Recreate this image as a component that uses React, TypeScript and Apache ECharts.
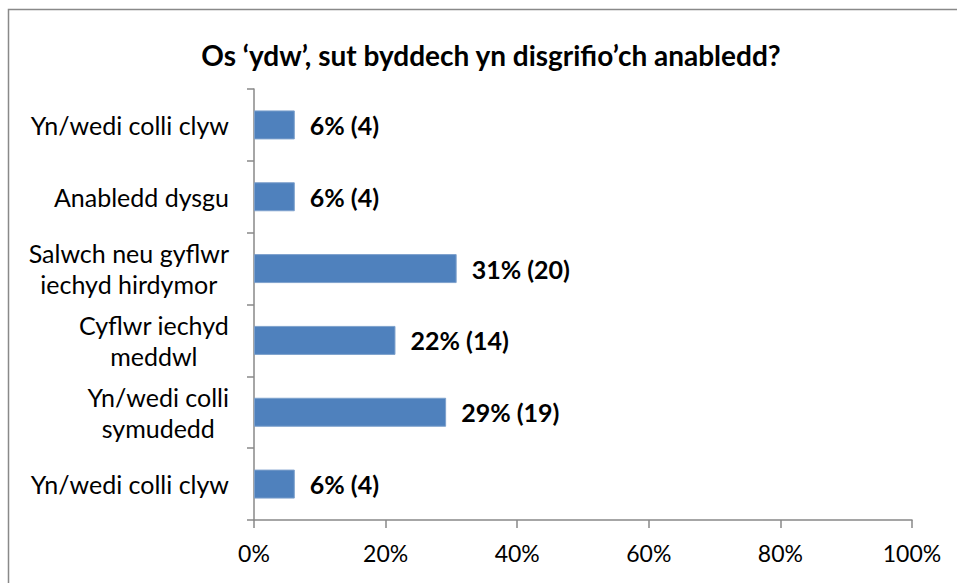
import React, { useEffect, useRef } from "react";
import * as echarts from "echarts";

const titleText = "Os \u2018ydw\u2019, sut byddech yn disgrifio\u2019ch anabledd?";
const categories = [
  "Yn/wedi colli clyw",
  "Anabledd dysgu",
  "Salwch neu gyflwr\niechyd hirdymor",
  "Cyflwr iechyd\nmeddwl",
  "Yn/wedi colli\nsymudedd",
  "Yn/wedi colli clyw",
];
const percentValues = [6.2, 6.2, 30.8, 21.5, 29.2, 6.2];
const percentLabels = ["6%", "6%", "31%", "22%", "29%", "6%"];
const counts = [4, 4, 20, 14, 19, 4];
const xTicks = [0, 20, 40, 60, 80, 100];

const FONT = "Lato, 'Noto Sans', sans-serif";

export default function App() {
  const ref = useRef<HTMLDivElement>(null);
  useEffect(() => {
    document.body.style.margin = "0";
    if (!ref.current) return;
    const chart = echarts.init(ref.current, null, { renderer: "svg" });
    chart.setOption({
      animation: false,
      backgroundColor: "#ffffff",
      title: {
        text: titleText,
        left: 486,
        textAlign: "center",
        top: 36,
        textStyle: { fontFamily: FONT, fontWeight: "bold", fontSize: 28, color: "#000" },
      },
      graphic: [
        {
          type: "rect",
          shape: { x: 8.5, y: 9.5, width: 2000, height: 2000 },
          style: { fill: "none", stroke: "#898989", lineWidth: 1.5 },
          silent: true,
        },
      ],
      grid: { left: 254, right: 45, top: 89, bottom: 63, outerBoundsMode: "none" },
      xAxis: {
        type: "value",
        min: xTicks[0],
        max: xTicks[xTicks.length - 1],
        interval: 20,
        splitLine: { show: false },
        axisLine: { show: true, lineStyle: { color: "#888888", width: 1.5 } },
        axisTick: { show: true, length: 8, lineStyle: { color: "#888888", width: 1.5 } },
        axisLabel: {
          formatter: "{value}%",
          fontFamily: FONT,
          fontSize: 23,
          color: "#000",
          margin: 21,
        },
      },
      yAxis: {
        type: "category",
        data: categories,
        inverse: true,
        axisLine: { show: true, lineStyle: { color: "#888888", width: 1.5 } },
        axisTick: { show: true, length: 7, lineStyle: { color: "#888888", width: 1.5 } },
        axisLabel: {
          margin: 25,
          align: "right",
          formatter: (v: string) => v.split("\n").map((l) => `{c|${l}}`).join("\n"),
          rich: {
            c: { fontFamily: FONT, fontSize: 25, color: "#000", align: "center", lineHeight: 31 },
          },
        },
      },
      series: [
        {
          type: "bar",
          data: percentValues,
          barWidth: 29,
          itemStyle: { color: "#4F81BD", borderColor: "#7EA1CC", borderWidth: 1 },
          label: {
            show: true,
            position: "right",
            distance: 15,
            fontFamily: FONT,
            fontWeight: "bold",
            fontSize: 25,
            color: "#000",
            formatter: (p: any) => `${percentLabels[p.dataIndex]} (${counts[p.dataIndex]})`,
          },
        },
      ],
    });
    return () => chart.dispose();
  }, []);
  return <div ref={ref} style={{ width: 957, height: 583 }} />;
}
